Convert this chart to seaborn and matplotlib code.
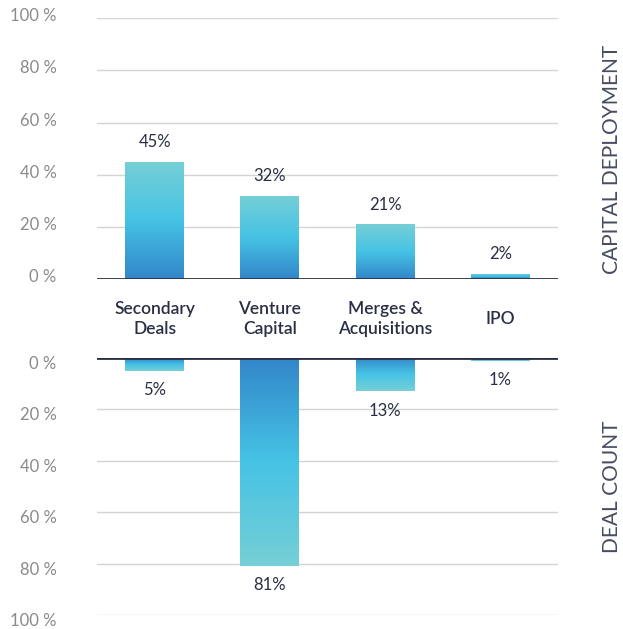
import numpy as np
import pandas as pd
import matplotlib
matplotlib.use("Agg")
import matplotlib.pyplot as plt
from matplotlib.colors import LinearSegmentedColormap
from matplotlib.transforms import ScaledTranslation
import seaborn as sns

categories = ["Secondary\nDeals", "Venture\nCapital", "Merges &\nAcquisitions", "IPO"]
capital_deployment = [45, 32, 21, 2]
deal_count = [5, 81, 13, 1]
tick_values = [0, 20, 40, 60, 80, 100]
tick_labels = ["0 %", "20 %", "40 %", "60 %", "80 %", "100 %"]

sns.set_theme(style="white")
plt.rcParams["font.family"] = ["Lato", "DejaVu Sans"]

NAVY = "#2a2f45"
GRID = "#d4d4d4"
TICK = "#8a8a8a"
grad = LinearSegmentedColormap.from_list("bar", ["#3286c9", "#46c3e5", "#76cfd6"])

fig = plt.figure(figsize=(6.23, 6.29), dpi=100)
ax_top = fig.add_axes([0.1557, 0.5564, 0.74, 0.4144])
ax_bot = fig.add_axes([0.1557, 0.0223, 0.74, 0.4085])

df_top = pd.DataFrame({"cat": categories, "val": capital_deployment})
df_bot = pd.DataFrame({"cat": categories, "val": deal_count})


def style_axis(ax, inverted, dy):
    ax.set_xlim(-0.5, 3.5)
    if inverted:
        ax.set_ylim(100, 0)
    else:
        ax.set_ylim(0, 100)
    ax.set_yticks(tick_values)
    ax.set_yticklabels(tick_labels, fontsize=12, color=TICK)
    ax.tick_params(axis="y", length=0, pad=29)
    # labels sit a little off the gridlines in the original
    shift = ScaledTranslation(0, dy / 100, fig.dpi_scale_trans)
    for lab in ax.get_yticklabels():
        lab.set_transform(lab.get_transform() + shift)
    ax.set_xticks([])
    ax.set_xlabel("")
    ax.set_ylabel("")
    for s in ax.spines.values():
        s.set_visible(False)
    for v in tick_values[1:]:
        ax.axhline(v, color=GRID, lw=1, zorder=0)
    ax.axhline(0, color=NAVY, lw=2, zorder=5)


def gradient_bars(ax):
    g = np.linspace(0, 1, 256).reshape(-1, 1)
    for p in ax.patches:
        x0, y0 = p.get_x(), p.get_y()
        w, h = p.get_width(), p.get_height()
        p.set_facecolor("none")
        p.set_edgecolor("none")
        # dark end at zero, light end at the bar tip
        im = ax.imshow(g, cmap=grad, aspect="auto", origin="lower",
                       extent=[x0, x0 + w, y0, y0 + h], zorder=2)
        im.set_clip_path(p)


sns.barplot(data=df_top, x="cat", y="val", ax=ax_top, width=0.51, color="#46c3e5")
sns.barplot(data=df_bot, x="cat", y="val", ax=ax_bot, width=0.51, color="#46c3e5")
gradient_bars(ax_top)
gradient_bars(ax_bot)
style_axis(ax_top, False, 3.5)
style_axis(ax_bot, True, -4.5)

for i, v in enumerate(capital_deployment):
    ax_top.text(i, v + 7.5, f"{v}%", ha="center", va="center",
                fontsize=12, color=NAVY)
for i, v in enumerate(deal_count):
    ax_bot.text(i, v + 7.5, f"{v}%", ha="center", va="center",
                fontsize=12, color=NAVY)

for i, c in enumerate(categories):
    ax_top.text(i, -0.155, c, transform=ax_top.get_xaxis_transform(),
                ha="center", va="center", fontsize=12.5, color=NAVY,
                fontweight="semibold", linespacing=1.3)

fig.text(0.982, 0.747, "CAPITAL DEPLOYMENT", rotation=90, ha="center",
         va="center", fontsize=15, color="#474c60")
fig.text(0.982, 0.226, "DEAL COUNT", rotation=90, ha="center",
         va="center", fontsize=15, color="#474c60")

fig.savefig("out.png", dpi=100)
